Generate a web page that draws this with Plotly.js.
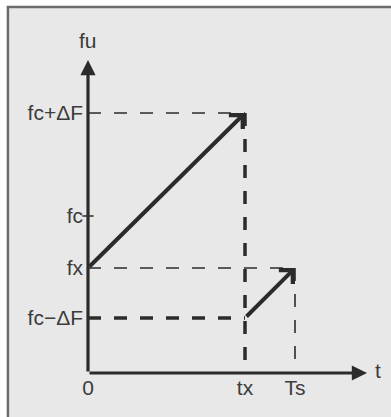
<!DOCTYPE html>
<html>
<head>
<meta charset="utf-8">
<script src="https://cdn.plot.ly/plotly-3.0.1.min.js"></script>
<style>html,body{margin:0;padding:0;background:#fff;overflow:hidden;}</style>
</head>
<body>
<div id="chart" style="width:391px;height:417px;"></div>
<script>
// time axis marks
const timeLabels = ['0', 'tx', 'Ts'];
const timeValues = [0, 157, 207];
// frequency axis marks
const freqLabels = ['fc\u2212\u0394F', 'fx', 'fc', 'fc+\u0394F'];
const freqValues = [55, 105, 157, 260];
// axis extents (t, fu)
const axisMax = [279, 313];
// the two sweep ramps: start / end points
const rampT0 = [0, 157];
const rampF0 = [105, 55];
const rampT1 = [157, 207];
const rampF1 = [260, 105];

const INK = '#2b2b2b';
const TEXT = '#3c3c3c';
const FONT = 'Liberation Sans, Arial, sans-serif';
const FSIZE = 21;

const tx = timeValues[1], ts = timeValues[2];
const fcLo = freqValues[0], fx = freqValues[1], fc = freqValues[2], fcHi = freqValues[3];

// dashed guide lines (thin or heavy)
const guides = [
    { t: [0, tx], f: [fcHi, fcHi], heavy: false },
    { t: [tx, tx], f: [fcHi, 0], heavy: true },
    { t: [0, ts], f: [fx, fx], heavy: false },
    { t: [ts, ts], f: [fx, 0], heavy: false },
    { t: [0, tx], f: [fcLo, fcLo], heavy: true }
];

let data = guides.map(g => ({
    x: g.t, y: g.f, type: 'scatter', mode: 'lines', hoverinfo: 'skip',
    cliponaxis: false,
    line: { color: INK, width: g.heavy ? 3.5 : 1.6, dash: '13px,13px' }
}));

// small tick on the fu axis at fc
data.push({
    x: [0], y: [fc], type: 'scatter', mode: 'markers', hoverinfo: 'skip', cliponaxis: false,
    marker: { symbol: 'line-ew', size: 8, line: { color: INK, width: 1.5 } }
});

let annotations = [];
// axes with arrow heads
annotations.push({ x: axisMax[0], y: 0, ax: 0, ay: 0, xref: 'x', yref: 'y', axref: 'x', ayref: 'y',
    text: '', showarrow: true, arrowhead: 2, arrowsize: 0.95, arrowwidth: 3.2, arrowcolor: INK });
annotations.push({ x: 0, y: axisMax[1], ax: 0, ay: 0, xref: 'x', yref: 'y', axref: 'x', ayref: 'y',
    text: '', showarrow: true, arrowhead: 2, arrowsize: 0.95, arrowwidth: 3.2, arrowcolor: INK });
// ramps
for (let i = 0; i < rampT0.length; i++) {
    annotations.push({ x: rampT1[i], y: rampF1[i], ax: rampT0[i], ay: rampF0[i],
        xref: 'x', yref: 'y', axref: 'x', ayref: 'y',
        text: '', showarrow: true, arrowhead: 4, arrowsize: 0.95, arrowwidth: 4, arrowcolor: INK });
}
// axis names
annotations.push({ x: 0, y: axisMax[1], xref: 'x', yref: 'y', text: 'fu', showarrow: false,
    xanchor: 'center', yanchor: 'bottom', yshift: 6, font: { family: FONT, size: FSIZE, color: TEXT } });
annotations.push({ x: axisMax[0], y: 0, xref: 'x', yref: 'y', text: 't', showarrow: false,
    xanchor: 'left', yanchor: 'middle', xshift: 6, yshift: 3, font: { family: FONT, size: FSIZE, color: TEXT } });

const layout = {
    width: 391, height: 417,
    margin: { l: 88, r: 24, t: 60, b: 44 },
    paper_bgcolor: '#ffffff', plot_bgcolor: 'rgba(0,0,0,0)',
    showlegend: false,
    font: { family: FONT, size: FSIZE, color: TEXT },
    xaxis: {
        range: [0, axisMax[0]], showgrid: false, zeroline: false, showline: false,
        tickvals: timeValues, ticktext: timeLabels, ticks: '', automargin: false,
        tickfont: { family: FONT, size: FSIZE, color: TEXT }
    },
    yaxis: {
        range: [0, axisMax[1]], showgrid: false, zeroline: false, showline: false,
        tickvals: freqValues, ticktext: freqLabels, ticks: '', automargin: false,
        ticklabelstandoff: 4,
        tickfont: { family: FONT, size: FSIZE, color: TEXT }
    },
    shapes: [{
        type: 'rect', xref: 'paper', yref: 'paper', layer: 'below',
        x0: -0.287, x1: 1.3, y0: -0.5, y1: 1.169,
        fillcolor: '#e8e8e8', line: { color: '#6b6b6b', width: 2.5 }
    }],
    annotations: annotations
};

Plotly.newPlot('chart', data, layout, { staticPlot: true, displayModeBar: false });
</script>
</body>
</html>
